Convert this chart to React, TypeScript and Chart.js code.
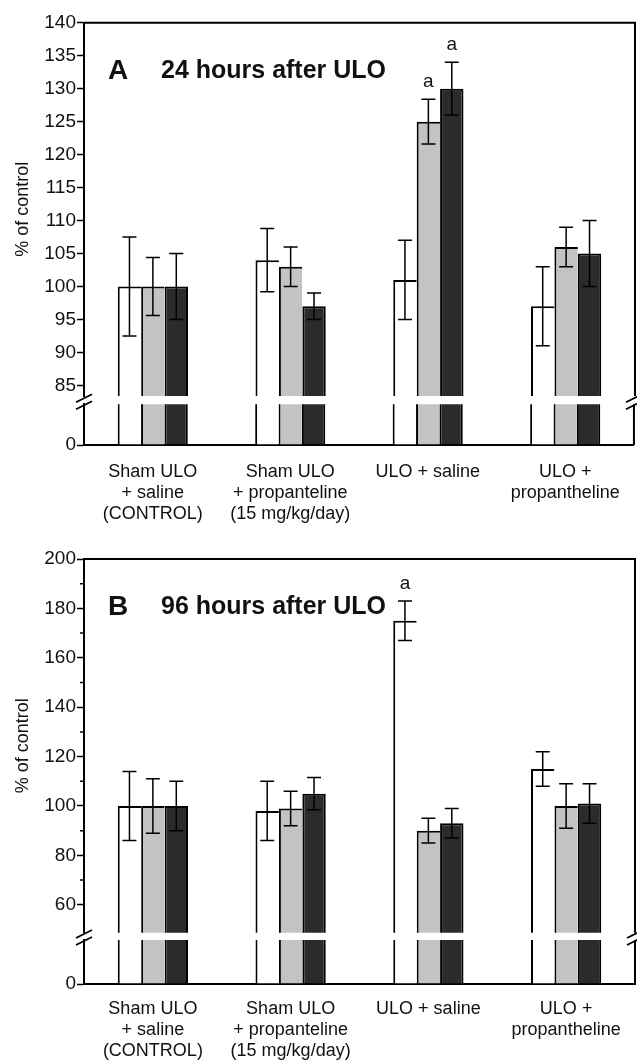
import React, { useEffect, useRef } from 'react';
import { Chart, registerables } from 'chart.js';

Chart.register(...registerables);

const FONT = "'Liberation Sans', Arial, Helvetica, sans-serif";
const INK = '#111111';

// ---------------- data ----------------
const categories = [
  ['Sham ULO', '+ saline', '(CONTROL)'],
  ['Sham ULO', '+ propanteline', '(15 mg/kg/day)'],
  ['ULO + saline'],
  ['ULO +', 'propantheline'],
];
const seriesNames = ['series 1', 'series 2', 'series 3'];
const seriesFills = ['#ffffff', '#c3c3c3', '#2b2b2b'];

// Panel A: 24 hours after ULO
const h24White = [100, 104, 101, 97];
const h24WhiteErr = [7.5, 4.8, 6, 6];
const h24Gray = [100, 103, 125, 106];
const h24GrayErr = [4.4, 3, 3.4, 3];
const h24Dark = [100, 97, 130, 105];
const h24DarkErr = [5, 2, 4, 5];
const h24WhiteSig = ['', '', '', ''];
const h24GraySig = ['', '', 'a', ''];
const h24DarkSig = ['', '', 'a', ''];
const h24Ticks = [85, 90, 95, 100, 105, 110, 115, 120, 125, 130, 135, 140];
const h24Min = 83.4;
const h24Max = 140;

// Panel B: 96 hours after ULO
const h96White = [100, 98, 175, 115];
const h96WhiteErr = [14, 12, 8, 7];
const h96Gray = [100, 99, 90, 100];
const h96GrayErr = [11, 7, 5, 9];
const h96Dark = [100, 105, 93, 101];
const h96DarkErr = [10, 6.5, 6, 8];
const h96WhiteSig = ['', '', 'a', ''];
const h96GraySig = ['', '', '', ''];
const h96DarkSig = ['', '', '', ''];
const h96Ticks = [60, 80, 100, 120, 140, 160, 180, 200];
const h96MinorTicks = [70, 90, 110, 130, 150, 170, 190];
const h96Min = 48.7;
const h96Max = 200;

// lower (broken-off) part of both axes
const lowerTicks = [0];
const lowerMin = 0;
const lowerMax = 10;

const yTitle = '% of control';

// ---------------- helpers ----------------
function buildDatasets(values: number[][]) {
  const borders = [
    { left: 2, top: 2, right: 0, bottom: 0 },
    { left: 2, top: 2, right: 0, bottom: 0 },
    { left: 2, top: 2, right: 2, bottom: 0 },
  ];
  return values.map((data, i) => ({
    label: seriesNames[i],
    data,
    backgroundColor: seriesFills[i],
    borderColor: '#000000',
    borderWidth: borders[i],
    borderSkipped: false,
    categoryPercentage: 0.51,
    barPercentage: 1,
    clip: 0,
  }));
}

function errorPlugin(errs: number[][], sigs: string[][]) {
  return {
    id: 'errorBars',
    afterDatasetsDraw(chart: any) {
      const ctx = chart.ctx;
      const ys = chart.scales.y;
      ctx.save();
      ctx.strokeStyle = '#000';
      ctx.lineWidth = 1.5;
      chart.data.datasets.forEach((ds: any, di: number) => {
        const meta = chart.getDatasetMeta(di);
        meta.data.forEach((bar: any, i: number) => {
          const v = ds.data[i];
          const e = errs[di][i];
          const x = bar.x;
          const yt = ys.getPixelForValue(v + e);
          const yb = ys.getPixelForValue(v - e);
          ctx.beginPath();
          ctx.moveTo(x, yt);
          ctx.lineTo(x, yb);
          ctx.moveTo(x - 7, yt);
          ctx.lineTo(x + 7, yt);
          ctx.moveTo(x - 7, yb);
          ctx.lineTo(x + 7, yb);
          ctx.stroke();
          const s = sigs[di][i];
          if (s) {
            ctx.fillStyle = INK;
            ctx.font = `19px ${FONT}`;
            ctx.textAlign = 'center';
            ctx.textBaseline = 'alphabetic';
            ctx.fillText(s, x, yt - 12);
          }
        });
      });
      ctx.restore();
    },
  };
}

function upperFramePlugin(letter: string, title: string, minor: number[]) {
  return {
    id: 'upperFrame',
    afterDraw(chart: any) {
      const { ctx, chartArea } = chart;
      const { left, right, top, bottom } = chartArea;
      ctx.save();
      ctx.strokeStyle = '#000';
      ctx.lineWidth = 2;
      ctx.beginPath();
      ctx.moveTo(left, top);
      ctx.lineTo(right, top);
      ctx.lineTo(right, bottom);
      ctx.stroke();
      // minor ticks
      const ys = chart.scales.y;
      ctx.lineWidth = 1.5;
      ctx.beginPath();
      minor.forEach((v) => {
        const y = ys.getPixelForValue(v);
        ctx.moveTo(left - 4, y);
        ctx.lineTo(left, y);
      });
      ctx.stroke();
      // panel title
      ctx.fillStyle = INK;
      ctx.textAlign = 'left';
      ctx.textBaseline = 'alphabetic';
      ctx.font = `bold 28px ${FONT}`;
      ctx.fillText(letter, left + 24, top + 56);
      ctx.font = `bold 25px ${FONT}`;
      ctx.fillText(title, left + 77, top + 55);
      ctx.restore();
    },
  };
}

const lowerFramePlugin = {
  id: 'lowerFrame',
  afterDraw(chart: any) {
    const { ctx, chartArea } = chart;
    const { left, right, top, bottom } = chartArea;
    ctx.save();
    ctx.strokeStyle = '#000';
    ctx.lineWidth = 2;
    ctx.beginPath();
    ctx.moveTo(right, top);
    ctx.lineTo(right, bottom);
    ctx.stroke();
    // axis break marks
    ctx.lineWidth = 1.8;
    ctx.beginPath();
    [left, right].forEach((x) => {
      [-6, 1].forEach((dy) => {
        ctx.moveTo(x - 8, top + dy + 4);
        ctx.lineTo(x + 8, top + dy - 4);
      });
    });
    ctx.stroke();
    ctx.restore();
  },
};

function yAxis(min: number, max: number, ticks: number[], withTitle: boolean) {
  return {
    min,
    max,
    afterFit: (s: any) => {
      s.width = 84;
    },
    afterBuildTicks: (s: any) => {
      s.ticks = ticks.map((v) => ({ value: v }));
    },
    ticks: { font: { family: FONT, size: 19 }, color: INK, padding: 1, autoSkip: false },
    grid: { display: true, drawOnChartArea: false, drawTicks: true, tickLength: 7, tickColor: '#000', tickWidth: 1.5 },
    border: { display: true, color: '#000', width: 2 },
    title: {
      display: withTitle,
      text: yTitle,
      font: { family: FONT, size: 18 },
      color: INK,
      padding: { top: 12, bottom: 0 },
    },
  };
}

function upperConfig(values: number[][], errs: number[][], sigs: string[][], min: number, max: number, ticks: number[], minor: number[], padTop: number, padBottom: number, letter: string, title: string) {
  return {
    type: 'bar',
    data: { labels: categories, datasets: buildDatasets(values) },
    options: {
      responsive: false,
      animation: false,
      layout: { padding: { left: 0, right: 2, top: padTop, bottom: padBottom } },
      plugins: { legend: { display: false }, tooltip: { enabled: false } },
      scales: {
        x: { display: false, offset: true },
        y: yAxis(min, max, ticks, true),
      },
    },
    plugins: [errorPlugin(errs, sigs), upperFramePlugin(letter, title, minor)],
  };
}

function lowerConfig(values: number[][], padTop: number, axisHeight: number, labelPad: number) {
  return {
    type: 'bar',
    data: { labels: categories, datasets: buildDatasets(values) },
    options: {
      responsive: false,
      animation: false,
      layout: { padding: { left: 0, right: 2, top: padTop, bottom: 0 } },
      plugins: { legend: { display: false }, tooltip: { enabled: false } },
      scales: {
        x: {
          offset: true,
          afterFit: (s: any) => {
            s.height = axisHeight;
          },
          grid: { display: false, drawTicks: false },
          border: { display: true, color: '#000', width: 2 },
          ticks: {
            font: { family: FONT, size: 18, lineHeight: 21 / 18 },
            color: INK,
            padding: labelPad,
            maxRotation: 0,
            autoSkip: false,
          },
        },
        y: yAxis(lowerMin, lowerMax, lowerTicks, false),
      },
    },
    plugins: [lowerFramePlugin],
  };
}

const makeAUpper = () =>
  upperConfig(
    [h24White, h24Gray, h24Dark],
    [h24WhiteErr, h24GrayErr, h24DarkErr],
    [h24WhiteSig, h24GraySig, h24DarkSig],
    h24Min, h24Max, h24Ticks, [], 22.7, 24, 'A', '24 hours after ULO'
  );
const makeALower = () => lowerConfig([h24White, h24Gray, h24Dark], 24.3, 95, 17);
const makeBUpper = () =>
  upperConfig(
    [h96White, h96Gray, h96Dark],
    [h96WhiteErr, h96GrayErr, h96DarkErr],
    [h96WhiteSig, h96GraySig, h96DarkSig],
    h96Min, h96Max, h96Ticks, h96MinorTicks, 39, 27.3, 'B', '96 hours after ULO'
  );
const makeBLower = () => lowerConfig([h96White, h96Gray, h96Dark], 20, 77, 14.5);

function ChartBox({ top, height, make }: { top: number; height: number; make: () => any }) {
  const ref = useRef<HTMLCanvasElement | null>(null);
  useEffect(() => {
    if (!ref.current) return;
    const chart = new Chart(ref.current, make());
    return () => chart.destroy();
  }, [make]);
  return (
    <div style={{ position: 'absolute', left: 0, top, width: 637, height }}>
      <canvas ref={ref} width={637} height={height} style={{ display: 'block', width: 637, height }} />
    </div>
  );
}

export default function App() {
  return (
    <div style={{ position: 'absolute', left: 0, top: 0, width: 637, height: 1061, background: '#ffffff', overflow: 'hidden' }}>
      <ChartBox top={0} height={420} make={makeAUpper} />
      <ChartBox top={520} height={440} make={makeBUpper} />
      <ChartBox top={380} height={160} make={makeALower} />
      <ChartBox top={920} height={141} make={makeBLower} />
    </div>
  );
}
